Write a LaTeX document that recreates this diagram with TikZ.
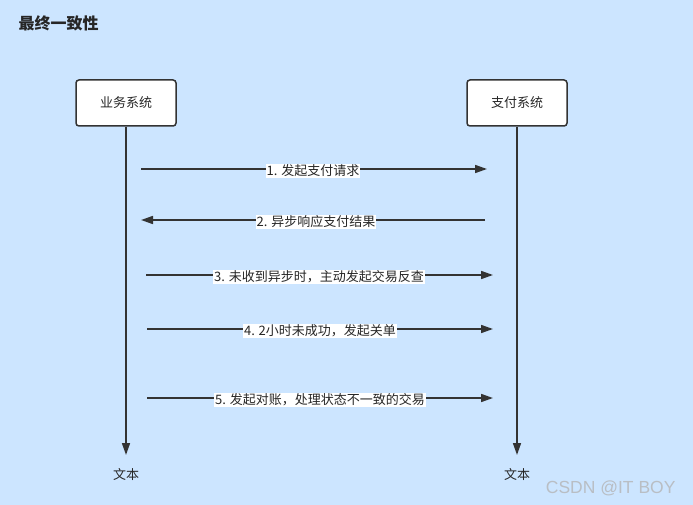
\documentclass[tikz,border=0pt]{standalone}
\usepackage{fontspec}
\setmainfont{Noto Sans CJK SC}
\newfontfamily\wmfont{Liberation Sans}
\usetikzlibrary{arrows.meta}
\definecolor{bgblue}{RGB}{204,229,255}
\definecolor{linegray}{RGB}{51,51,51}
\definecolor{wmgray}{RGB}{185,190,196}
\tikzset{
  actor/.style={draw=linegray,line width=1.5pt,fill=white,rounded corners=3pt,minimum width=100pt,minimum height=46pt,font=\fontsize{13}{15}\selectfont,text=black!85},
  life/.style={draw=linegray,line width=1.6pt,-{Triangle[length=12pt,width=8pt]}},
  msg/.style={draw=linegray,line width=1.6pt,-{Triangle[length=12pt,width=8pt]}},
  lbl/.style={fill=white,inner sep=1pt,font=\fontsize{13}{15}\selectfont,text=black!85},
  endtxt/.style={font=\fontsize{13}{15}\selectfont,text=black!85}
}
\begin{document}
\begin{tikzpicture}[x=1pt,y=-1pt]
\fill[bgblue] (0,0) rectangle (693,505);
\useasboundingbox (0,0) rectangle (693,505);
\node[anchor=west,font=\bfseries\fontsize{16}{18}\selectfont,text=black!85] (title) at (15,23) {最终一致性};
\node[actor] (biz) at (126,103) {业务系统};
\node[actor] (pay) at (517,103) {支付系统};
\coordinate (bizend) at (126,455);
\coordinate (payend) at (517,455);
\draw[life] (biz.south) -- (bizend);
\draw[life] (pay.south) -- (payend);
\node[endtxt] (t1) at (126,475) {文本};
\node[endtxt] (t2) at (517,475) {文本};
% messages
\coordinate (a1) at (141,169); \coordinate (b1) at (487,169);
\coordinate (a2) at (485,220); \coordinate (b2) at (141,220);
\coordinate (a3) at (146,275); \coordinate (b3) at (493,275);
\coordinate (a4) at (147,329); \coordinate (b4) at (493,329);
\coordinate (a5) at (147,398); \coordinate (b5) at (493,398);
\draw[msg] (a1) -- (b1);
\node[lbl] (l1) at (313,171) {1. 发起支付请求};
\draw[msg] (a2) -- (b2);
\node[lbl] (l2) at (316,222) {2. 异步响应支付结果};
\draw[msg] (a3) -- (b3);
\node[lbl] (l3) at (319,277) {3. 未收到异步时，主动发起交易反查};
\draw[msg] (a4) -- (b4);
\node[lbl] (l4) at (320,331) {4. 2小时未成功，发起关单};
\draw[msg] (a5) -- (b5);
\node[lbl] (l5) at (320,400) {5. 发起对账，处理状态不一致的交易};
\node[anchor=east,font=\wmfont\fontsize{17.5}{20}\selectfont,text=wmgray] (wm) at (679,488) {CSDN @IT BOY};
\end{tikzpicture}
\end{document}
